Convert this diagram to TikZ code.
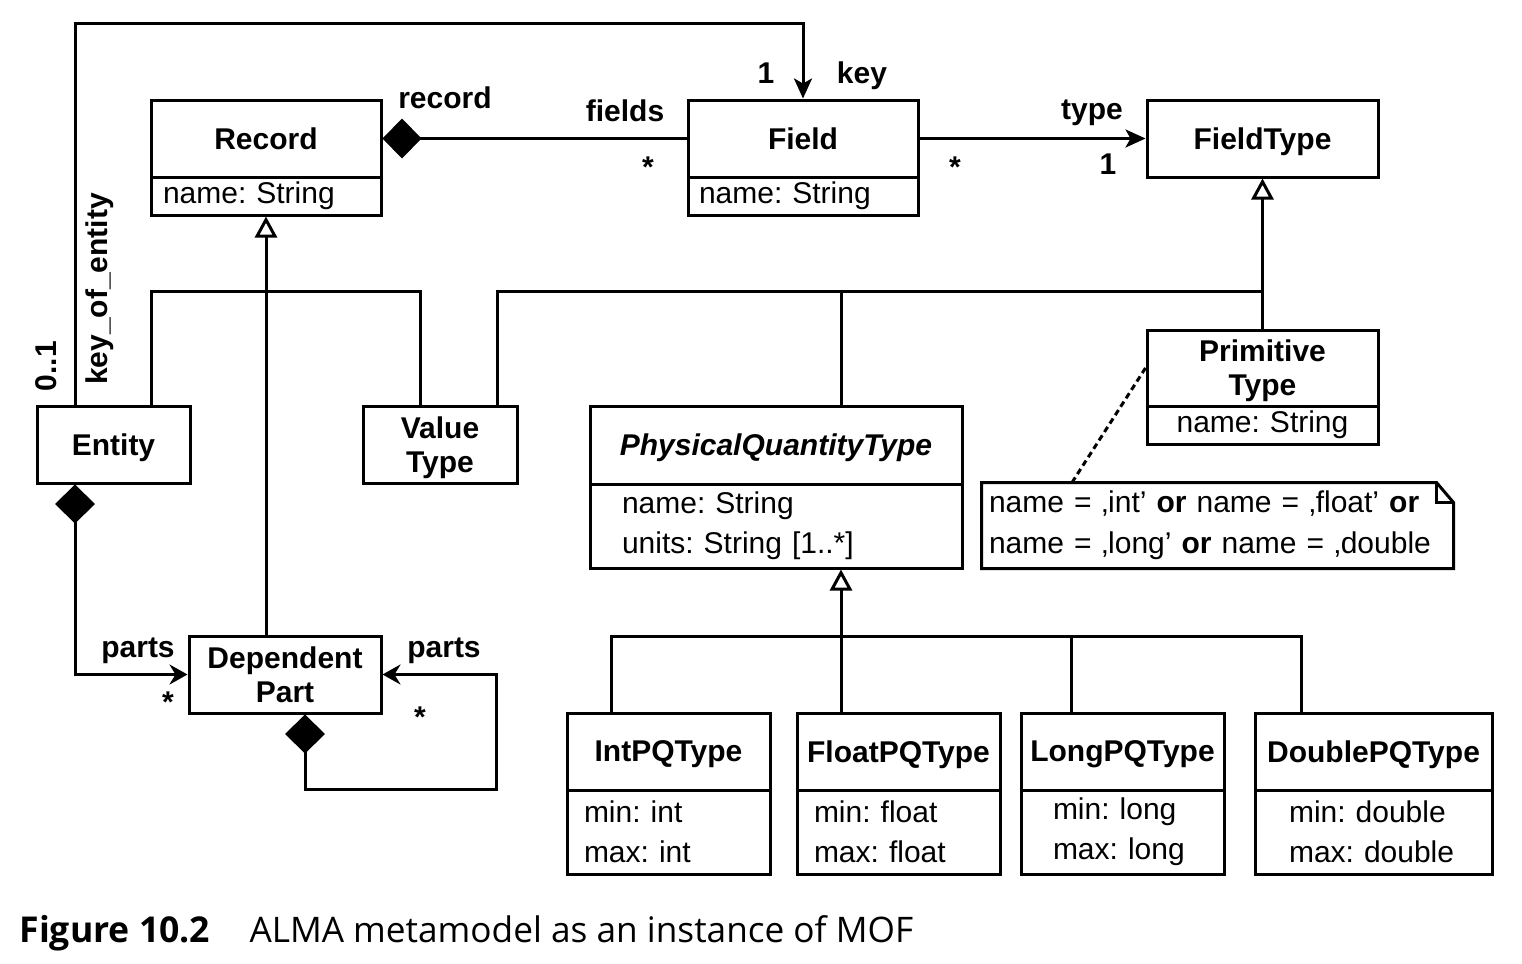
\documentclass[tikz,border=0pt]{standalone}
\usepackage{fontspec}
\setmainfont{Liberation Sans}
\newfontfamily\capfont{Open Sans}
\usetikzlibrary{arrows.meta}
\newcommand{\nf}{\fontsize{15}{17}\selectfont}
\newcommand{\af}{\fontsize{15}{20}\selectfont}
\frenchspacing
\begin{document}
\begin{tikzpicture}[x=0.5pt,y=-0.5pt,line width=1.5pt,
  hdr/.style={draw,rectangle,inner sep=0pt,align=center,font=\nf\bfseries,text depth=0pt},
  attr/.style={draw,rectangle,inner ysep=0pt,align=left,font=\af},
  lbl/.style={inner sep=0pt,font=\nf\bfseries},
  comp/.style={{Diamond[length=19.5pt,width=20pt]}-},
  compnav/.style={{Diamond[length=19.5pt,width=20pt]}-{Stealth[length=9pt,width=10pt,inset=3pt]}},
  nav/.style={-{Stealth[length=10pt,width=9pt,inset=2.5pt]}},
  gen/.style={-{Triangle[open,length=10.5pt,width=11pt]}},
  noteline/.style={dash pattern=on 3pt off 2pt}
]
\useasboundingbox (0,0) rectangle (1522,964);

% ---------- classes ----------
\node[hdr,minimum width=115pt,minimum height=38.5pt] (rec) at (266,138.5) {Record};
\node[attr,minimum width=115pt,minimum height=19pt,text width=103pt,inner xsep=6pt] (recA) at (266,196) {name: String};

\node[hdr,minimum width=115pt,minimum height=38.5pt] (fld) at (803,138.5) {Field};
\node[attr,minimum width=115pt,minimum height=19pt,text width=104pt,inner xsep=5.5pt] (fldA) at (803,196) {name: String};

\node[hdr,minimum width=115.5pt,minimum height=38.5pt] (ft) at (1262.5,138.5) {FieldType};

\node[hdr,minimum width=76.5pt,minimum height=38.5pt] (ent) at (113.5,444.5) {Entity};
\node[hdr,minimum width=77pt,minimum height=38.5pt] (vt) at (440,444.5) {Value\\Type};

\node[hdr,minimum width=186pt,minimum height=39pt,font=\nf\bfseries\itshape] (pqt) at (776,445) {PhysicalQuantityType};
\node[attr,minimum height=42pt,text width=154pt,inner xsep=16pt] (pqtA) at (776,526) {name: String\\units: String [1..*]};

\node[hdr,minimum width=115.5pt,minimum height=38pt] (pt) at (1262.5,368) {Primitive\\Type};
\node[attr,minimum height=19pt,text width=115.5pt,inner xsep=0pt,align=center] (ptA) at (1262.5,425) {name: String};

\node[inner xsep=3pt,inner ysep=0pt,minimum height=41.5pt,text width=228.5pt,align=left,font=\fontsize{15}{20.5}\selectfont] (note) at (1217.5,525.5)
  {name = ‚int’ \textbf{or} name = ‚float’ \textbf{or}\\name = ‚long’ \textbf{or} name = ‚double};

\node[hdr,minimum width=96pt,minimum height=38.5pt] (dp) at (285,674.5) {Dependent\\Part};

\node[hdr,minimum width=101.5pt,minimum height=38.5pt] (int) at (668.5,751.5) {IntPQType};
\node[attr,minimum height=42pt,text width=84.5pt,inner xsep=8.5pt] (intA) at (668.5,832) {min: int\\max: int};

\node[hdr,minimum width=101.5pt,minimum height=38.5pt] (flt) at (898.5,751.5) {FloatPQType};
\node[attr,minimum height=42pt,text width=84.5pt,inner xsep=8.5pt] (fltA) at (898.5,832) {min: float\\max: float};

\node[hdr,minimum width=101.5pt,minimum height=38.5pt] (lng) at (1122.5,751.5) {LongPQType};
\node[attr,minimum height=42pt,text width=69.5pt,inner xsep=16pt] (lngA) at (1122.5,832) {min: long\\max: long};

\node[hdr,minimum width=118.5pt,minimum height=38.5pt] (dbl) at (1373.5,751.5) {DoublePQType};
\node[attr,minimum height=42pt,text width=84.5pt,inner xsep=17pt] (dblA) at (1373.5,832) {min: double\\max: double};

% ---------- note outline ----------
\draw ([xshift=-8.5pt]note.north east) -- (note.north west) -- (note.south west) -- (note.south east) -- ([yshift=-10pt]note.north east) -- cycle;
\draw ([xshift=-8.5pt]note.north east) |- ([yshift=-10pt]note.north east);
\coordinate (nt) at (1072,484);
\draw[noteline] (pt.west) -- (note.north -| nt);

% ---------- bend points ----------
\coordinate (k1) at (75,23);
\coordinate (k2) at (803,23);
\coordinate (b1) at (151,291);
\coordinate (b2) at (420,291);
\coordinate (c1) at (497,291);
\coordinate (c2) at (1263,291);
\coordinate (c3) at (841,291);
\coordinate (d1) at (611,636);
\coordinate (d2) at (1301,636);
\coordinate (d3) at (1071,636);
\coordinate (s1) at (305,789);
\coordinate (s2) at (496,789);

% ---------- associations ----------
\draw[nav] (ent.north -| k1) -- (k1) -- (k2) -- (fld.north);
\draw[comp] (rec.east) -- (fld.west);
\draw[nav] (fld.east) -- (ft.west);
\draw[compnav] (ent.south -| k1) |- (dp.west);
\draw[compnav] (dp.south -| s1) -- (s1) -- (s2) |- (dp.east);

% ---------- generalizations ----------
\draw[gen] (recA.south |- dp.north) -- (recA.south);
\draw (ent.north -| b1) -- (b1) -- (b2) -- (vt.north -| b2);
\draw[gen] (pt.north) -- (ft.south);
\draw (vt.north -| c1) -- (c1) -- (c2);
\draw (pqt.north -| c3) -- (c3);
\draw[gen] (flt.north -| c3) -- (pqtA.south -| c3);
\draw (int.north -| d1) -- (d1) -- (d2) -- (dbl.north -| d2);
\draw (d3) -- (lng.north -| d3);

% ---------- labels ----------
\node[lbl,anchor=base] (lrec) at (445,108) {record};
\node[lbl,anchor=base] (lfields) at (625,121) {fields};
\node[lbl,anchor=base] (lmany1) at (648,177) {*};
\node[lbl,anchor=base] (lone1) at (766,83) {1};
\node[lbl,anchor=base] (lkey) at (862,83) {key};
\node[lbl,anchor=base] (lmany2) at (955,177) {*};
\node[lbl,anchor=base] (ltype) at (1092,119) {type};
\node[lbl,anchor=base] (lone2) at (1108,174) {1};
\node[lbl,rotate=90] (lkoe) at (100,289) {key\_of\_entity};
\node[lbl,rotate=90] (l01) at (46,366) {0..1};
\node[lbl,anchor=base] (lparts1) at (138,657) {parts};
\node[lbl,anchor=base] (lmany3) at (168,712) {*};
\node[lbl,anchor=base] (lparts2) at (444,657) {parts};
\node[lbl,anchor=base] (lmany4) at (420,727) {*};

% ---------- caption ----------
\node[anchor=base west,inner sep=0pt,font=\capfont\fontsize{17.8}{20}\selectfont\bfseries] (cap1) at (18,942) {Figure 10.2};
\node[anchor=base west,inner sep=0pt,font=\capfont\fontsize{17.6}{20}\selectfont] (cap2) at (248,942) {ALMA metamodel as an instance of MOF};
\end{tikzpicture}
\end{document}
